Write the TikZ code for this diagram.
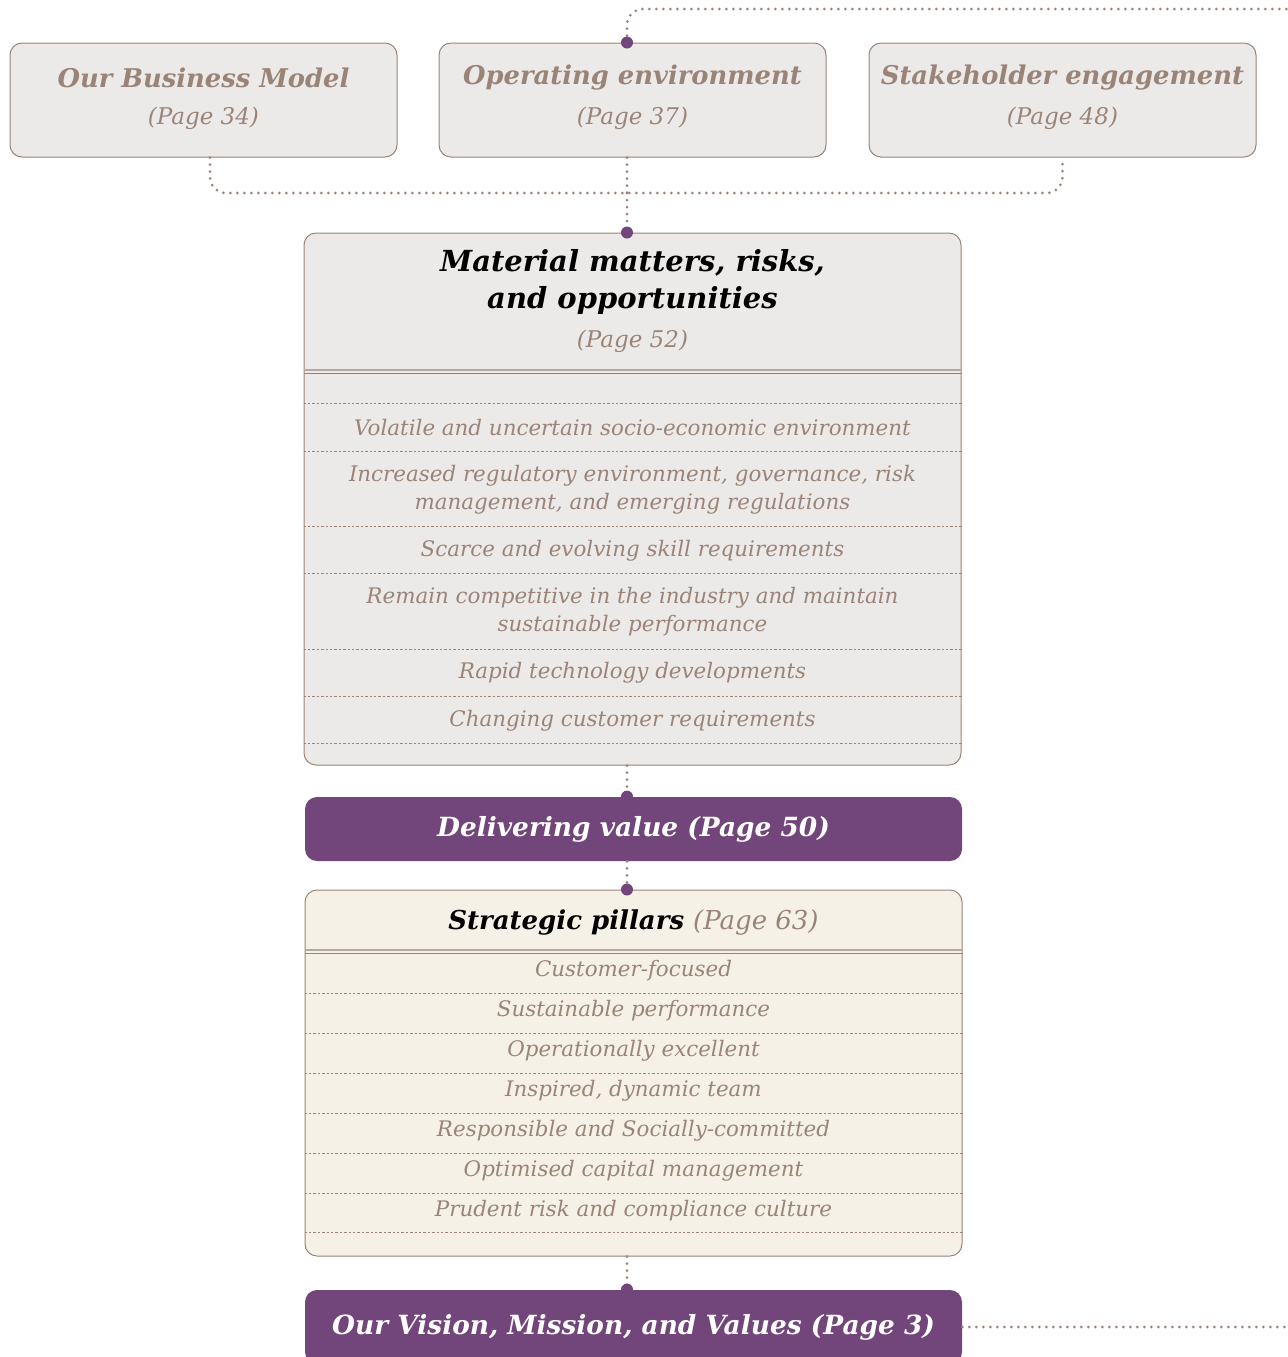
\documentclass[tikz,border=0pt]{standalone}
\usepackage{fontspec}
\setmainfont{DejaVu Serif}
\usetikzlibrary{positioning}
\definecolor{matbrown}{HTML}{9A8478}
\definecolor{matgrey}{HTML}{ECEAE8}
\definecolor{matcream}{HTML}{F6F1E7}
\definecolor{matpurple}{HTML}{72467A}
\newcommand{\pg}[1]{{\itshape\mdseries\color{matbrown}(Page #1)}}
\newcommand{\itemFont}[0]{\fontsize{10.7}{14}\selectfont\itshape}

\begin{document}
\begin{tikzpicture}[x=0.5pt,y=-0.5pt]
  \tikzset{
    linkbox/.style={draw=matbrown, fill=matgrey, rounded corners=6pt, line width=0.5pt,
      minimum width=193.5pt, minimum height=57pt, inner sep=0pt},
    bigbox/.style={draw=matbrown, rounded corners=6pt, line width=0.5pt,
      minimum width=328.5pt, inner sep=0pt},
    purplebox/.style={fill=matpurple, rounded corners=6pt, minimum width=328.5pt,
      inner sep=0pt, text=white, font=\fontsize{13.2}{16}\selectfont\bfseries\itshape},
    boxtitle/.style={text=matbrown, font=\fontsize{12.9}{16}\selectfont\bfseries\itshape},
    boxpage/.style={text=matbrown, font=\fontsize{11.5}{14}\selectfont\itshape},
    headtitle/.style={align=center, font=\fontsize{14.5}{18.5}\selectfont\bfseries\itshape},
    rowtext/.style={align=center, text=matbrown, font=\itemFont},
    rowline/.style={matbrown, dashed, dash pattern=on 1.2pt off 1pt, line width=0.35pt},
    link/.style={matbrown, line width=1.5pt, line cap=round, dash pattern=on 0pt off 3.5pt},
    dot/.style={circle, fill=matpurple, minimum size=6pt, inner sep=0pt}
  }
  \clip (0,0) rectangle (1288,1357);
  \coordinate (spine) at (627,0);
  \coordinate (topR) at (1288,9);
  \coordinate (botR) at (1288,1327);
  \coordinate (join) at (627,193);

  \node[linkbox] (bm) at (203.5,100) {};
  \node[linkbox] (oe) at (632.5,100) {};
  \node[linkbox] (se) at (1062.5,100) {};
  \node[boxtitle] (bm-t) at (bm.center |- 0,78) {Our Business Model};
  \node[boxpage] (bm-p) at (bm.center |- 0,118) {(Page 34)};
  \node[boxtitle] (oe-t) at (oe.center |- 0,78) {Operating environment};
  \node[boxpage] (oe-p) at (oe.center |- 0,118) {(Page 37)};
  \node[boxtitle] (se-t) at (se.center |- 0,78) {Stakeholder engagement};
  \node[boxpage] (se-p) at (se.center |- 0,118) {(Page 48)};

  \draw[link, rounded corners=8pt] (oe.north -| spine) |- (topR);
  \draw[link, rounded corners=8pt] ([xshift=3.25pt]bm.south) |- (join) -| (se.south);
  \draw[link] (oe.south -| spine) -- (join);

  \node[bigbox, fill=matgrey, minimum height=266pt] (mm) at (632.5,499) {};
  \node[headtitle] (mm-t) at (mm.center |- 0,282) {Material matters, risks,\\and opportunities};
  \node[boxpage] (mm-p) at (mm.center |- 0,341) {(Page 52)};
  \draw[matbrown!70, line width=1pt] (mm.west |- 0,370) -- (mm.east |- 0,370);
  \draw[matbrown, line width=0.5pt] (mm.west |- 0,373.5) -- (mm.east |- 0,373.5);
  \foreach \y in {403,451,526,573,649,696,743}
    \draw[rowline] (mm.west |- 0,\y) -- (mm.east |- 0,\y);
  \foreach \y/\t [count=\i] in {
      428/{Volatile and uncertain socio-economic environment},
      490/{Increased regulatory environment, governance, risk\\management, and emerging regulations},
      551/{Scarce and evolving skill requirements},
      612/{Remain competitive in the industry and maintain\\sustainable performance},
      673/{Rapid technology developments},
      721/{Changing customer requirements}}
    \node[rowtext] (risk-\i) at (mm.center |- 0,\y) {\t};

  \node[purplebox, minimum height=32pt] (dv) at (633.5,829) {Delivering value (Page 50)};

  \node[bigbox, fill=matcream, minimum height=183pt] (sp) at (633.5,1073) {};
  \node[font=\fontsize{13}{18}\selectfont\bfseries\itshape] (sp-t) at (sp.center |- 0,922)
    {Strategic pillars \pg{63}};
  \draw[matbrown!70, line width=1pt] (sp.west |- 0,950) -- (sp.east |- 0,950);
  \draw[matbrown, line width=0.5pt] (sp.west |- 0,953.5) -- (sp.east |- 0,953.5);
  \foreach \y in {993,1033,1073,1113,1153,1193,1232}
    \draw[rowline] (sp.west |- 0,\y) -- (sp.east |- 0,\y);
  \foreach \t [count=\i] in {Customer-focused, Sustainable performance, Operationally excellent,
      {Inspired, dynamic team}, Responsible and Socially-committed,
      Optimised capital management, Prudent risk and compliance culture}
    \node[rowtext] (pillar-\i) at (sp.center |- 0,931+40*\i) {\t};

  \node[purplebox, minimum height=37pt] (vm) at (633.5,1327) {Our Vision, Mission, and Values (Page 3)};

  \draw[link] (join) -- (mm.north -| spine);
  \draw[link] (mm.south -| spine) -- (dv.north -| spine);
  \draw[link] (dv.south -| spine) -- (sp.north -| spine);
  \draw[link] (sp.south -| spine) -- (vm.north -| spine);
  \draw[link] (vm.east) -- (botR);

  \node[dot] (dot-oe) at (oe.north -| spine) {};
  \node[dot] (dot-mm) at (mm.north -| spine) {};
  \node[dot] (dot-dv) at (dv.north -| spine) {};
  \node[dot] (dot-sp) at (sp.north -| spine) {};
  \node[dot] (dot-vm) at (vm.north -| spine) {};
\end{tikzpicture}
\end{document}
